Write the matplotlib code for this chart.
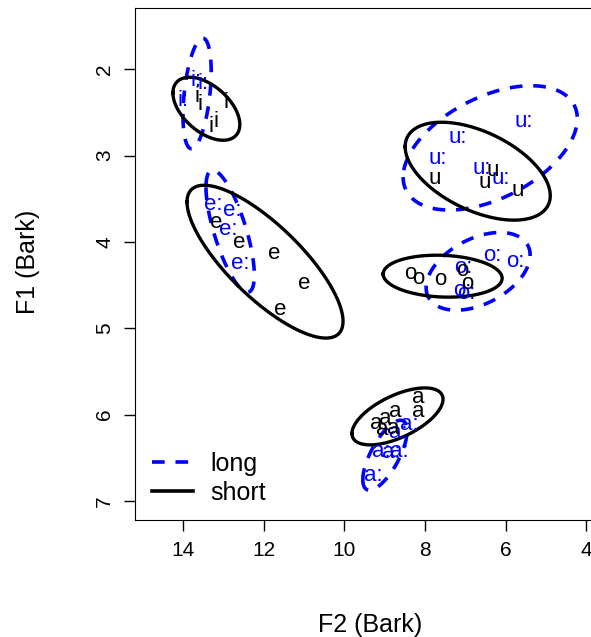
import numpy as np
import matplotlib
matplotlib.use('Agg')
import matplotlib.pyplot as plt
from matplotlib.lines import Line2D

plt.rcParams['font.family'] = ['Liberation Sans', 'DejaVu Sans']

# token positions (F2, F1) in Bark
short_vowel = ['i'] * 5 + ['e'] * 5 + ['u'] * 4 + ['o'] * 5 + ['a'] * 7
short_f2 = [13.65, 13.58, 12.93, 13.31, 13.18,
            13.18, 12.61, 11.74, 11.00, 11.59,
            7.75, 6.51, 6.33, 5.71,
            8.37, 8.17, 7.62, 7.08, 6.95,
            8.17, 8.17, 8.74, 8.99, 9.21, 9.06, 8.79]
short_f1 = [2.31, 2.41, 2.38, 2.66, 2.60,
            3.78, 4.01, 4.13, 4.48, 4.78,
            3.26, 3.31, 3.17, 3.40,
            4.36, 4.42, 4.44, 4.33, 4.48,
            5.80, 5.96, 5.96, 6.04, 6.10, 6.17, 6.16]

long_vowel = ['i:'] * 3 + ['e:'] * 4 + ['u:'] * 5 + ['o:'] * 5 + ['a:'] * 6
long_f2 = [14.00, 13.68, 13.50,
           13.26, 12.78, 12.88, 12.59,
           7.18, 7.67, 6.58, 6.13, 5.56,
           7.05, 6.33, 5.76, 7.08, 6.98,
           8.66, 8.39, 9.09, 8.84, 8.64, 9.29]
long_f1 = [2.36, 2.13, 2.16,
           3.57, 3.63, 3.85, 4.25,
           2.79, 3.03, 3.15, 3.26, 2.61,
           4.29, 4.16, 4.23, 4.56, 4.60,
           6.21, 6.11, 6.43, 6.44, 6.43, 6.70]

# ellipse parameters: centre F2, centre F1, sd F2, sd F1, correlation
short_ell = {
    'i': (13.42, 2.457, 0.83, 0.365, -0.50),
    'e': (11.965, 4.228, 1.935, 0.885, -0.78),
    'u': (6.69, 3.18, 1.80, 0.567, -0.50),
    'o': (7.56, 4.396, 1.476, 0.243, -0.10),
    'a': (8.68, 6.02, 1.13, 0.33, 0.60),
}
long_ell = {
    'i:': (13.65, 2.28, 0.35, 0.64, 0.40),
    'e:': (12.83, 3.875, 0.60, 0.706, -0.72),
    'u:': (6.38, 2.91, 2.16, 0.72, 0.47),
    'o:': (6.68, 4.34, 1.29, 0.45, 0.42),
    'a:': (8.99, 6.47, 0.55, 0.405, 0.70),
}

x_ticks = [14, 12, 10, 8, 6, 4]
y_ticks = [2, 3, 4, 5, 6, 7]


def ellipse(cx, cy, sx, sy, rho):
    t = np.linspace(0, 2 * np.pi, 300)
    x = cx + sx * np.cos(t)
    y = cy + sy * (rho * np.cos(t) + np.sqrt(1 - rho ** 2) * np.sin(t))
    return x, y


fig = plt.figure(figsize=(5.91, 6.37), dpi=100)
ax = fig.add_axes([135 / 591, 1 - 520 / 637, 1 - 135 / 591, (520 - 8) / 637])

blue = '#0000ff'
for v, f2, f1 in zip(long_vowel, long_f2, long_f1):
    ax.text(f2, f1, v, color=blue, fontsize=16, ha='center', va='center')
for v, f2, f1 in zip(short_vowel, short_f2, short_f1):
    ax.text(f2, f1, v, color='black', fontsize=16, ha='center', va='center')

for p in long_ell.values():
    x, y = ellipse(*p)
    ax.plot(x, y, color=blue, lw=2.6, linestyle=(0, (3.5, 3)))
for p in short_ell.values():
    x, y = ellipse(*p)
    ax.plot(x, y, color='black', lw=2.4)

ax.set_xlim(15.19, 3.88)
ax.set_ylim(7.22, 1.29)
ax.set_xticks(x_ticks)
ax.set_yticks(y_ticks)
ax.tick_params(labelsize=15, length=8, width=1, pad=7)
for lab in ax.get_yticklabels():
    lab.set_rotation(90)
    lab.set_va('center')
ax.spines['right'].set_visible(False)

handles = [Line2D([], [], color=blue, lw=2.6, linestyle=(0, (3.5, 3))),
           Line2D([], [], color='black', lw=2.6)]
ax.legend(handles, ['long', 'short'], loc='lower left', bbox_to_anchor=(-0.012, -0.015),
          frameon=False, fontsize=18, handlelength=1.65, handletextpad=0.7,
          labelspacing=0.2)

fig.text(370 / 591, 1 - 625 / 637, 'F2 (Bark)', fontsize=18, ha='center', va='center')
fig.text(28 / 591, 1 - 262 / 637, 'F1 (Bark)', fontsize=18, ha='center', va='center',
         rotation=90)

fig.savefig('out.png', dpi=100)
